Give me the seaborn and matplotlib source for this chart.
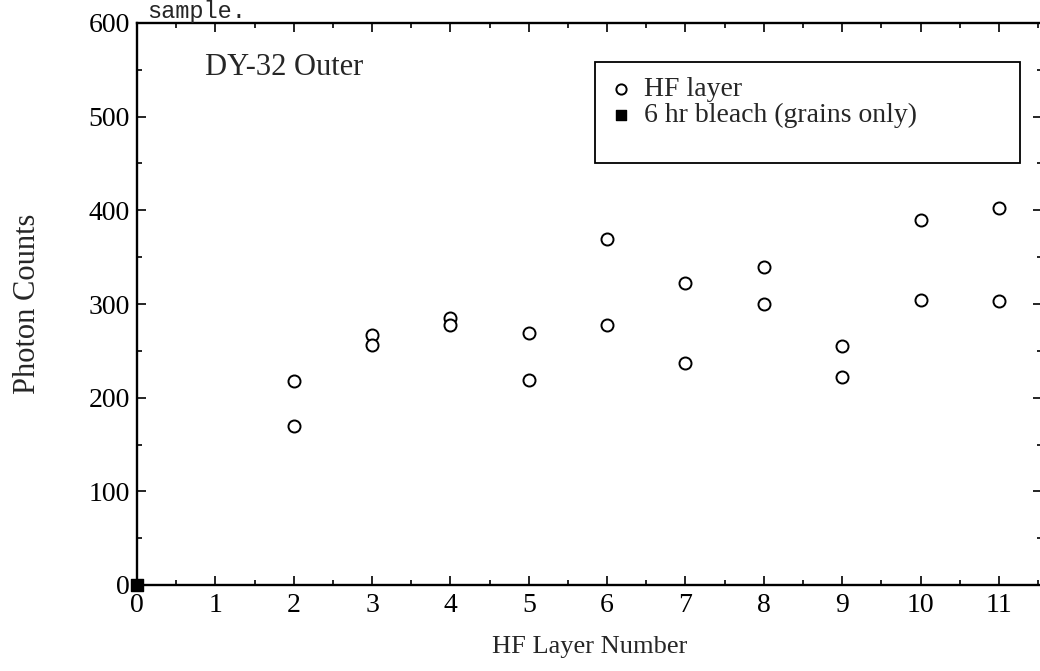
import matplotlib
matplotlib.use('Agg')
import matplotlib.pyplot as plt
import matplotlib.patches as mpatches
from matplotlib.ticker import MultipleLocator
import seaborn as sns
import pandas as pd

# ── Data ─────────────────────────────────────────────────────────────────────
hf_layer  = [2, 2, 3, 3, 4, 4, 5, 5, 6, 6, 7, 7, 8, 8, 9, 9, 10, 10, 11, 11]
hf_counts = [218, 170, 267, 256, 285, 278, 269, 219, 369, 278,
             322, 237, 339, 300, 255, 222, 390, 304, 403, 303]
bleach_layer  = [0]
bleach_counts = [0]

x_ticks = list(range(0, 12))
y_ticks = [0, 100, 200, 300, 400, 500, 600]

sns.set_style("ticks")
plt.rcParams["font.family"] = ["Liberation Serif", "DejaVu Serif"]

hf_df = pd.DataFrame({"layer": hf_layer, "counts": hf_counts})
bl_df = pd.DataFrame({"layer": bleach_layer, "counts": bleach_counts})

W, H = 1040, 671
x0, x1, y0, y1 = 137, 1042, 585, 23   # axes box in pixels
fig = plt.figure(figsize=(W/100, H/100), dpi=100)
ax = fig.add_axes([x0/W, (H-y0)/H, (x1-x0)/W, (y0-y1)/H])

sns.scatterplot(data=hf_df, x="layer", y="counts", ax=ax, marker="o",
                s=75, facecolor="white", edgecolor="black", linewidth=1.4,
                label="HF layer", zorder=3)
sns.scatterplot(data=bl_df, x="layer", y="counts", ax=ax, marker="s",
                s=64, color="black", edgecolor="black", linewidth=1,
                label="6 hr bleach (grains only)", zorder=4, clip_on=False)

ax.set_xlim(0, 11.55)
ax.set_ylim(0, 600)
ax.set_xticks(x_ticks)
ax.set_yticks(y_ticks)
ax.xaxis.set_minor_locator(MultipleLocator(0.5))
ax.yaxis.set_minor_locator(MultipleLocator(50))
ax.tick_params(which="both", direction="in", top=True, right=True,
               labelsize=20, width=1.2, colors="black")
ax.tick_params(axis="x", pad=6)
ax.tick_params(axis="y", pad=5)
ax.tick_params(which="major", length=6.5)
ax.tick_params(which="minor", length=3.5)
for sp in ax.spines.values():
    sp.set_linewidth(1.7)
    sp.set_color("black")

ax.set_xlabel("HF Layer Number", fontsize=19, va="top")
ax.set_ylabel("Photon Counts", fontsize=22)
ax.xaxis.set_label_coords(0.5, (y0-636)/(y0-y1))
ax.yaxis.set_label_coords((42-x0)/(x1-x0), 0.5)

ax.text(0.87, 544, "DY-32 Outer", fontsize=22, ha="left", va="baseline")

# legend box drawn separately, text rows sit tight in its upper part
box = mpatches.Rectangle(((595-x0)/(x1-x0), (y0-163)/(y0-y1)),
                         (1020-595)/(x1-x0), (163-62)/(y0-y1),
                         transform=ax.transAxes, fill=False,
                         edgecolor="black", linewidth=1.3, zorder=5)
ax.add_patch(box)
leg = ax.legend(loc="upper left", bbox_to_anchor=((608-x0)/(x1-x0), (y0-77)/(y0-y1)),
                fontsize=20, frameon=False, borderpad=0, borderaxespad=0,
                handletextpad=0.4, labelspacing=0.0, handlelength=0.9,
                markerscale=0.85)

fig.text(147/W, 1 - 18/H, "sample.", fontsize=17, ha="left", va="baseline",
         family=["Liberation Mono", "DejaVu Sans Mono"])

fig.savefig("out.png", dpi=100, facecolor="white")
